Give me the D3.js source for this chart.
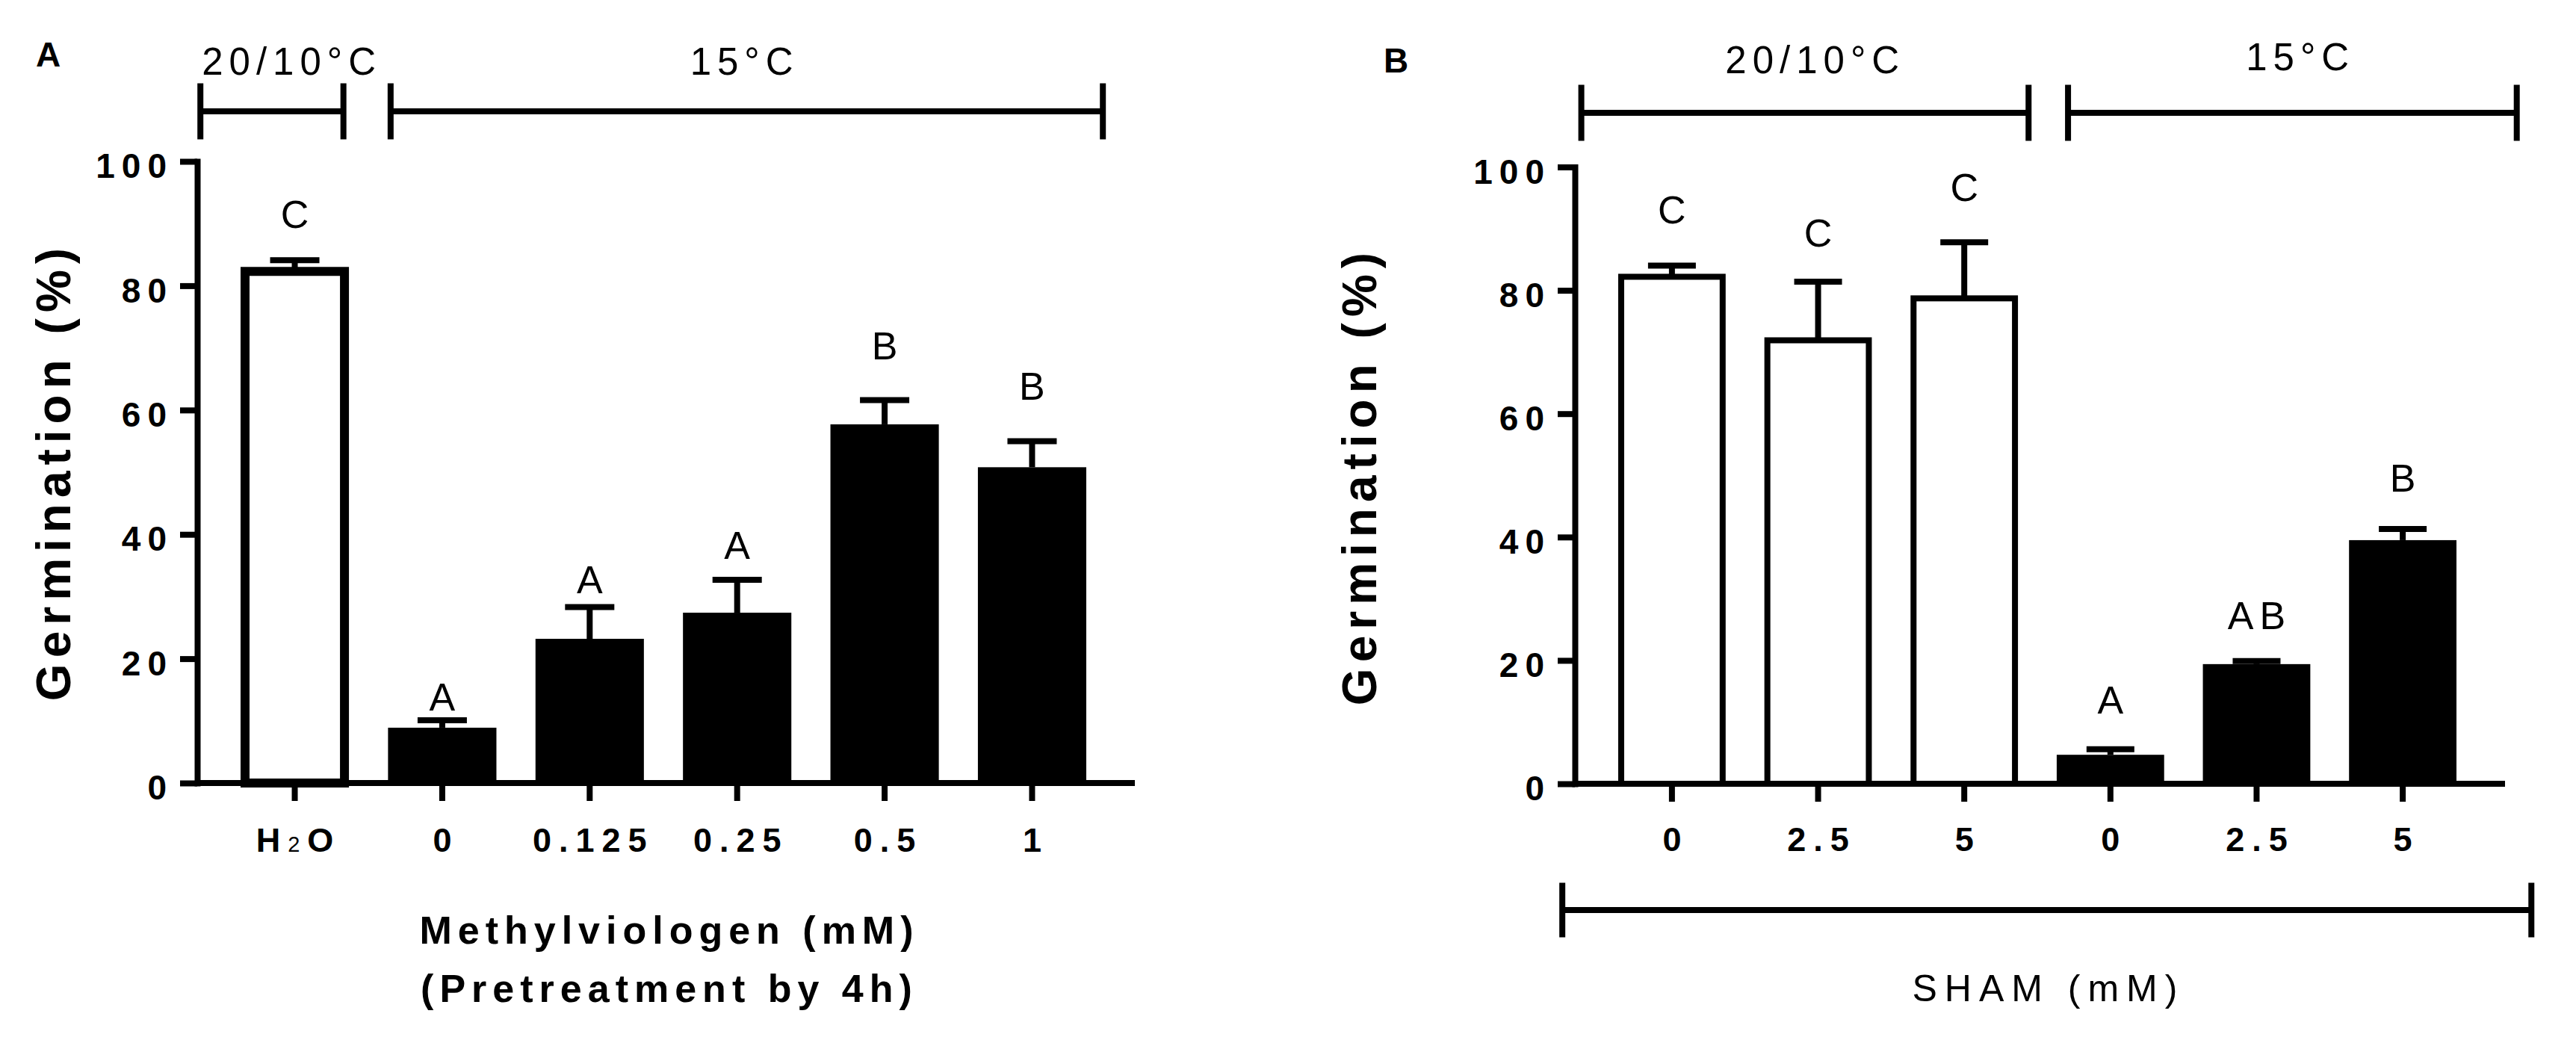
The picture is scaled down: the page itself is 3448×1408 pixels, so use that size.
<!DOCTYPE html>
<html>
<head>
<meta charset="utf-8">
<script src="https://cdn.jsdelivr.net/npm/d3@7"></script>
<style>
  body { margin: 0; background: #fff; }
  svg { display: block; font-family: "Liberation Sans", Arial, Helvetica, sans-serif; }
</style>
</head>
<body>
<div id="chart"></div>
<script>
const width = 3448, height = 1408;

// ---- panel A : methylviologen pretreatment ----
const catsA = ["H2O", "0", "0.125", "0.25", "0.5", "1"];
const meanA = [82.3, 8.9, 23.2, 27.4, 57.7, 50.8];
const semA = [1.8, 1.2, 5.1, 5.3, 3.9, 4.2];
const lettersA = ["C", "A", "A", "A", "B", "B"];
const letterAtA = [89.3, 11.6, 30.5, 36.0, 68.2, 61.7];
const tempA = ["20/10°C", "15°C", "15°C", "15°C", "15°C", "15°C"];

// ---- panel B : SHAM ----
const catsB = ["0", "2.5", "5", "0", "2.5", "5"];
const meanB = [82.2, 71.9, 78.7, 4.7, 19.4, 39.5];
const semB = [1.8, 9.5, 9.1, 0.9, 0.5, 1.8];
const lettersB = ["C", "C", "C", "A", "AB", "B"];
const letterAtB = [90.8, 87.1, 94.5, 11.4, 25.1, 47.4];
const tempB = ["20/10°C", "20/10°C", "20/10°C", "15°C", "15°C", "15°C"];

const yTicks = [0, 20, 40, 60, 80, 100];

const svg = d3.select("#chart")
  .append("svg")
  .attr("width", width)
  .attr("height", height);

const panels = [
  {
    cats: catsA, mean: meanA, sem: semA, letters: lettersA, letterAt: letterAtA, temp: tempA,
    left: 264, right: 1519, top: 216, bottom: 1048, barStroke: 12, capW: 66,
    tag: "A", tagX: 48, tagY: 89, titleX: 94, titleY: 635,
    // bracket spans in bar-step units (0 = centre of first bar)
    brackets: [
      { label: "20/10°C", from: -0.64, to: 0.33, at: -0.04, y: 149, ty: 100 },
      { label: "15°C", from: 0.65, to: 5.48, at: 3.03, y: 149, ty: 100 }
    ],
    tickLabelY: 1140,
    xTitle: ["Methylviologen (mM)", "(Pretreatment by 4h)"], xTitleY: [1263, 1341],
    xTitleBold: true, xTitleAt: 2.52, bottomBracket: null
  },
  {
    cats: catsB, mean: meanB, sem: semB, letters: lettersB, letterAt: letterAtB, temp: tempB,
    left: 2108, right: 3353, top: 223.5, bottom: 1049, barStroke: 8, capW: 64,
    tag: "B", tagX: 1852, tagY: 97, titleX: 1842, titleY: 641,
    brackets: [
      { label: "20/10°C", from: -0.62, to: 2.44, at: 0.96, y: 151, ty: 98 },
      { label: "15°C", from: 2.71, to: 5.78, at: 4.28, y: 151, ty: 94 }
    ],
    tickLabelY: 1139,
    xTitle: ["SHAM (mM)"], xTitleY: [1340],
    xTitleBold: false, xTitleAt: 2.556,
    bottomBracket: { from: -0.75, to: 5.88, y: 1218, half: 36.5 }
  }
];

panels.forEach(drawPanel);

function drawPanel(p) {
  const g = svg.append("g");
  const idx = d3.range(p.cats.length);

  const x = d3.scaleBand()
    .domain(idx)
    .range([p.left + 58, p.right - 65])
    .paddingInner(0.265)
    .paddingOuter(0);

  const y = d3.scaleLinear()
    .domain([0, 100])
    .range([p.bottom, p.top]);

  // position in bar-step units
  const pos = u => x(0) + x.bandwidth() / 2 + u * x.step();

  // panel tag
  g.append("text")
    .attr("x", p.tagX).attr("y", p.tagY)
    .attr("font-size", 46).attr("font-weight", "bold")
    .text(p.tag);

  // temperature brackets
  p.brackets.forEach(b => {
    const bx0 = pos(b.from), bx1 = pos(b.to);
    g.append("path")
      .attr("d", `M${bx0},${b.y - 37.5}V${b.y + 37.5}M${bx0},${b.y}H${bx1}M${bx1},${b.y - 37.5}V${b.y + 37.5}`)
      .attr("fill", "none").attr("stroke", "#000").attr("stroke-width", 8);
    g.append("text")
      .attr("x", pos(b.at) + 4).attr("y", b.ty)
      .attr("text-anchor", "middle")
      .attr("font-size", 51).attr("letter-spacing", 8)
      .text(b.label);
  });

  // y axis
  const yAxis = g.append("g")
    .attr("transform", `translate(${p.left},0)`)
    .call(d3.axisLeft(y).tickValues(yTicks).tickSize(23).tickSizeOuter(0));
  yAxis.select(".domain").attr("stroke-width", 8).attr("stroke-linecap", "square");
  yAxis.selectAll(".tick line").attr("stroke-width", 8);
  yAxis.selectAll(".tick text")
    .attr("x", -32).attr("dy", "0.47em")
    .attr("font-size", 46).attr("font-weight", "bold")
    .attr("letter-spacing", 9)
    .attr("font-family", null);

  // x axis
  g.append("line")
    .attr("x1", p.left).attr("x2", p.right)
    .attr("y1", p.bottom).attr("y2", p.bottom)
    .attr("stroke", "#000").attr("stroke-width", 8);
  const xAxis = g.append("g")
    .attr("transform", `translate(0,${p.bottom})`)
    .call(d3.axisBottom(x).tickSize(24).tickSizeOuter(0).tickFormat(i => p.cats[i]));
  xAxis.select(".domain").remove();
  xAxis.selectAll(".tick line").attr("stroke-width", 8);
  xAxis.selectAll(".tick text")
    .attr("y", p.tickLabelY - p.bottom).attr("dy", null)
    .attr("x", 5)
    .attr("font-size", 45).attr("font-weight", "bold")
    .attr("letter-spacing", 10)
    .attr("font-family", null)
    .each(function(i) {
      const label = p.cats[i];
      if (label === "H2O") {
        const t = d3.select(this).text(null);
        t.append("tspan").text("H");
        t.append("tspan").attr("font-size", 29).attr("font-weight", "normal").text("2");
        t.append("tspan").text("O");
      }
    });

  // bars
  g.selectAll(".bar")
    .data(idx)
    .join("rect")
    .attr("class", "bar")
    .each(function(i) {
      const open = p.temp[i] === "20/10°C";
      const sw = open ? p.barStroke : 0;
      d3.select(this)
        .attr("x", x(i) + sw / 2)
        .attr("width", x.bandwidth() - sw)
        .attr("y", y(p.mean[i]))
        .attr("height", y(0) - y(p.mean[i]))
        .attr("fill", open ? "#fff" : "#000")
        .attr("stroke", open ? "#000" : "none")
        .attr("stroke-width", sw);
    });

  // error bars (upper only)
  const err = g.selectAll(".err")
    .data(idx)
    .join("g")
    .attr("class", "err")
    .attr("stroke", "#000")
    .attr("stroke-width", 8);
  err.append("line")
    .attr("x1", i => x(i) + x.bandwidth() / 2)
    .attr("x2", i => x(i) + x.bandwidth() / 2)
    .attr("y1", i => y(p.mean[i]))
    .attr("y2", i => y(p.mean[i] + p.sem[i]));
  err.append("line")
    .attr("x1", i => x(i) + x.bandwidth() / 2 - p.capW / 2)
    .attr("x2", i => x(i) + x.bandwidth() / 2 + p.capW / 2)
    .attr("y1", i => y(p.mean[i] + p.sem[i]))
    .attr("y2", i => y(p.mean[i] + p.sem[i]));

  // significance letters
  g.selectAll(".letter")
    .data(idx)
    .join("text")
    .attr("class", "letter")
    .attr("x", i => x(i) + x.bandwidth() / 2 + 4)
    .attr("y", i => y(p.letterAt[i]))
    .attr("text-anchor", "middle")
    .attr("font-size", 52)
    .attr("letter-spacing", 8)
    .text(i => p.letters[i]);

  // y axis title
  g.append("text")
    .attr("transform", `translate(${p.titleX},${p.titleY}) rotate(-90)`)
    .attr("x", 4)
    .attr("text-anchor", "middle")
    .attr("font-size", 64).attr("font-weight", "bold")
    .attr("letter-spacing", 8)
    .text("Germination (%)");

  // bottom bracket (panel B)
  if (p.bottomBracket) {
    const b = p.bottomBracket;
    const bx0 = pos(b.from), bx1 = pos(b.to);
    g.append("path")
      .attr("d", `M${bx0},${b.y - b.half}V${b.y + b.half}M${bx0},${b.y}H${bx1}M${bx1},${b.y - b.half}V${b.y + b.half}`)
      .attr("fill", "none").attr("stroke", "#000").attr("stroke-width", 8);
  }

  // x axis title
  p.xTitle.forEach((line, k) => {
    g.append("text")
      .attr("x", pos(p.xTitleAt) + 4)
      .attr("y", p.xTitleY[k])
      .attr("text-anchor", "middle")
      .attr("font-size", p.xTitleBold ? 52 : 50)
      .attr("font-weight", p.xTitleBold ? "bold" : "normal")
      .attr("letter-spacing", p.xTitleBold ? 8 : 10)
      .text(line);
  });
}
</script>
</body>
</html>
